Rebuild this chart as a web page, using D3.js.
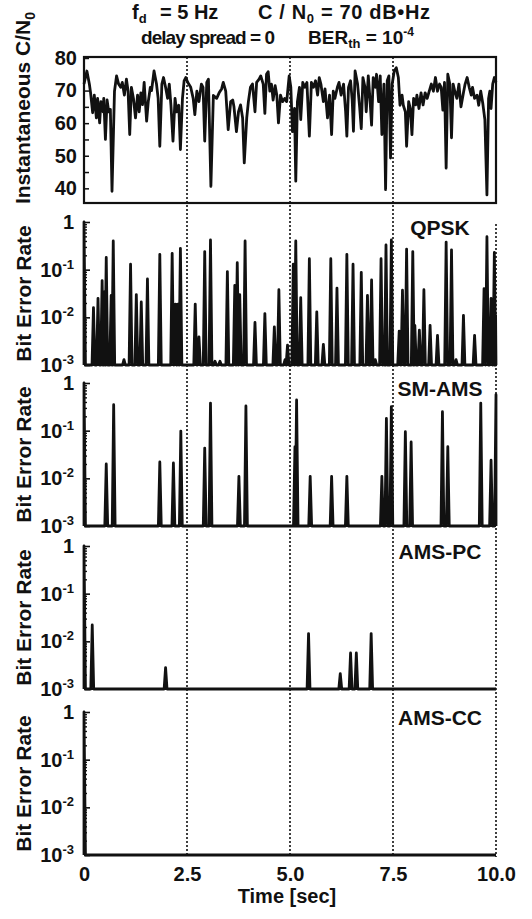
<!DOCTYPE html>
<html>
<head>
<meta charset="utf-8">
<script src="https://cdn.jsdelivr.net/npm/d3@7"></script>
<style>
  body { margin: 0; background: #fff; }
  text { font-family: "Liberation Sans", Arial, sans-serif; font-weight: bold; fill: #111; }
</style>
</head>
<body>
<svg id="root"></svg>
<script>
// Instantaneous C/N0 [dB-Hz], as [time sec, value]
const cnSeries = [
  [0.00,72],[0.07,76],[0.13,72],[0.16,69.3],[0.21,63.2],[0.25,68.6],[0.30,61.6],[0.33,67.6],[0.38,60.1],[0.41,66.6],
  [0.46,63.5],[0.48,67.6],[0.52,55],[0.56,67.1],[0.60,63.5],[0.64,64.2],[0.68,39.1],[0.74,69.8],[0.79,74.5],[0.84,72],
  [0.89,71],[0.93,72.5],[0.98,68.6],[1.03,73.5],[1.07,69.8],[1.11,56.5],[1.15,71],[1.20,67.6],[1.25,61.6],[1.30,68.6],
  [1.34,63.5],[1.38,69.3],[1.42,65.7],[1.46,72.5],[1.52,60.6],[1.56,66.6],[1.61,71],[1.64,70],[1.70,76],[1.76,72],
  [1.80,67.6],[1.84,52.9],[1.89,72],[1.93,74],[1.98,71],[2.03,67.6],[2.07,72],[2.11,65.5],[2.16,54.5],[2.21,67.6],
  [2.25,63.5],[2.30,65.5],[2.34,51.9],[2.39,67.6],[2.43,73],[2.47,74],[2.52,72.5],[2.59,71],[2.65,67.6],[2.69,62.6],
  [2.74,69.8],[2.79,66.6],[2.85,72],[2.89,71],[2.93,54.5],[2.98,72.5],[3.02,73.5],[3.08,40.6],[3.14,68.5],[3.22,67.6],
  [3.28,69.3],[3.34,70.5],[3.38,72.5],[3.44,69.8],[3.50,58],[3.56,66.6],[3.61,67.1],[3.64,65],[3.70,57.4],[3.75,63.5],
  [3.80,65.6],[3.85,61.6],[3.89,47.8],[3.95,61.6],[3.99,66.6],[4.04,71],[4.09,72],[4.15,63.5],[4.19,72.5],[4.25,73.5],
  [4.29,74.5],[4.35,72],[4.39,63],[4.43,75],[4.47,75.8],[4.51,69.8],[4.55,72],[4.59,67.1],[4.64,71.5],[4.68,68.6],
  [4.72,60.1],[4.77,68.6],[4.82,66.6],[4.87,67.6],[4.92,66.6],[4.98,74.5],[5.02,71],[5.06,57.4],[5.11,64.5],[5.14,42.2],
  [5.18,66.6],[5.23,71],[5.26,61.1],[5.31,72.5],[5.36,71],[5.41,72.5],[5.47,56],[5.52,72.5],[5.57,71],[5.62,73],
  [5.67,68.6],[5.71,74],[5.75,72],[5.81,66.6],[5.85,70.5],[5.91,61.6],[5.96,68.6],[6.01,56.5],[6.05,69.8],[6.09,67.6],
  [6.15,71],[6.19,72.5],[6.24,68.6],[6.30,72],[6.35,63.5],[6.38,56],[6.42,71],[6.47,73],[6.51,67],[6.54,57.5],
  [6.58,76],[6.64,72],[6.69,65],[6.73,58.3],[6.77,74],[6.82,71],[6.85,63.5],[6.90,74.5],[6.94,67.6],[6.98,59.4],
  [7.02,74],[7.07,71],[7.10,75],[7.15,66.6],[7.19,74.5],[7.23,56.5],[7.28,72],[7.32,39.6],[7.36,73],[7.40,74.5],
  [7.44,49.3],[7.48,72],[7.53,76],[7.58,77],[7.63,74],[7.67,65.5],[7.72,68.6],[7.75,65.5],[7.80,63.5],[7.83,52.9],
  [7.88,66.6],[7.92,64.5],[7.96,56.5],[8.00,67.6],[8.05,65.6],[8.08,68.6],[8.13,64.5],[8.18,69.3],[8.23,65.6],[8.28,69.3],
  [8.33,67.6],[8.38,69.8],[8.43,72],[8.48,69.8],[8.53,74],[8.58,69.8],[8.63,72],[8.67,71],[8.71,64],[8.75,72.5],
  [8.79,46.2],[8.83,75],[8.88,72],[8.92,55.5],[8.96,72],[9.00,69.8],[9.05,67.6],[9.10,72],[9.15,65],[9.21,69.3],
  [9.25,72],[9.30,74],[9.35,71],[9.40,68.6],[9.43,71],[9.48,67.6],[9.54,68.6],[9.58,65.5],[9.63,69.8],[9.68,66],
  [9.73,61.1],[9.78,38],[9.82,67.6],[9.85,69.8],[9.88,64.5],[9.92,72],[9.96,74],[10.0,72.5]
];

// BER peaks per scheme, [time sec, peak BER]; the floor is 1e-3
const qpskPeaks = [
  [0,1],[0.23,0.016],[0.34,0.025],[0.44,0.059],[0.49,0.034],[0.54,0.18],[0.66,0.029],[0.71,0.40],[0.97,0.0013],
  [1.13,0.13],[1.27,0.030],[1.39,0.021],[1.54,0.064],[1.84,0.21],[2.14,0.22],[2.22,0.019],[2.28,0.019],[2.34,0.28],
  [2.70,0.019],[2.79,0.0039],[2.93,0.24],[3.07,0.42],[3.18,0.0012],[3.30,0.0012],[3.48,0.091],[3.66,0.047],[3.72,0.14],
  [3.78,0.03],[3.91,0.40],[4.15,0.0078],[4.39,0.012],[4.62,0.0063],[4.73,0.038],[4.88,0.0013],[4.94,0.0026],[5.08,0.13],
  [5.14,0.40],[5.26,0.026],[5.47,0.17],[5.65,0.013],[5.81,0.0027],[5.99,0.17],[6.14,0.041],[6.38,0.21],[6.53,0.13],
  [6.73,0.088],[6.88,0.029],[6.98,0.061],[7.07,0.0013],[7.21,0.17],[7.29,0.0036],[7.33,0.33],[7.46,0.42],[7.65,0.0051],
  [7.73,0.037],[7.83,0.27],[7.98,0.24],[8.03,0.0068],[8.14,0.0054],[8.25,0.038],[8.40,0.0068],[8.58,0.0042],[8.79,0.38],
  [8.92,0.26],[9.03,0.0013],[9.21,0.011],[9.48,0.0042],[9.71,0.04],[9.78,0.49],[9.88,0.025],[9.96,0.23],[9.99,0.011]
];
const smamsPeaks = [
  [0,1],[0.54,0.020],[0.72,0.35],[1.84,0.022],[2.17,0.021],[2.35,0.098],[2.93,0.043],[3.07,0.38],[3.76,0.011],
  [3.93,0.33],[5.12,0.046],[5.16,0.44],[5.49,0.011],[6.01,0.011],[6.38,0.011],[7.23,0.011],[7.34,0.18],[7.46,0.32],
  [7.80,0.095],[7.94,0.058],[8.70,0.25],[8.83,0.046],[9.63,0.38],[9.88,0.024],[10,0.57]
];
const amspcPeaks = [[0,1],[0.2,0.022],[1.98,0.0028],[5.45,0.0145],[6.22,0.0021],[6.47,0.0057],[6.61,0.0057],[6.97,0.0145]];
const amsccPeaks = [[0,1]];

const schemeNames = ["QPSK", "SM-AMS", "AMS-PC", "AMS-CC"];
const timeTicks = [0, 2.5, 5, 7.5, 10];
const timeTickLabels = ["0", "2.5", "5.0", "7.5", "10.0"];
const cnTicks = [40, 50, 60, 70, 80];
const berTicks = [1, 0.1, 0.01, 0.001];
const berTickExp = ["", "-1", "-2", "-3"];

const berFloor = 1e-3;

const svg = d3.select("#root").attr("width", 532).attr("height", 919);

const x = d3.scaleLinear([0, 10], [84, 496]);
const yCn = d3.scaleLinear([35.5, 80.3], [203, 57]);

// panel geometry for the four BER plots
const berPanels = [
  { data: qpskPeaks, top: 222, bottom: 365 },
  { data: smamsPeaks, top: 383, bottom: 526 },
  { data: amspcPeaks, top: 546, bottom: 689 },
  { data: amsccPeaks, top: 712, bottom: 855 }
];

// title, two lines
function titlePart(xPos, yPos, size, len, parts) {
  const t = svg.append("text")
    .attr("x", xPos).attr("y", yPos)
    .style("font-size", size + "px");
  if (len) t.attr("textLength", len).attr("lengthAdjust", "spacing");
  parts.forEach(([s, kind]) => {
    const sp = t.append("tspan").text(s);
    if (kind === "sub") sp.attr("dy", 4).style("font-size", "13px");
    if (kind === "back") sp.attr("dy", -4);
    if (kind === "sup") sp.attr("dy", -8).style("font-size", "12px");
  });
}
titlePart(132, 19, 20, null, [["f"], ["d", "sub"]]);
titlePart(160, 19, 20, null, [["= 5 Hz"]]);
titlePart(258, 19, 20, 172, [["C / N"], ["0", "sub"], [" = 70 dB\u2022Hz", "back"]]);
titlePart(141, 44, 19, 134, [["delay spread = 0"]]);
titlePart(308, 44, 19, null, [["BER"], ["th", "sub"], [" = 10", "back"], ["-4", "sup"]]);

// dotted time grid
svg.append("g").selectAll("line")
  .data(timeTicks.slice(1, 4))
  .join("line")
  .attr("x1", d => x(d)).attr("x2", d => x(d))
  .attr("y1", 57).attr("y2", 857)
  .attr("stroke", "#111").attr("stroke-width", 1.6).attr("stroke-dasharray", "2,2");
svg.append("line")
  .attr("x1", x(10)).attr("x2", x(10)).attr("y1", 224).attr("y2", 857)
  .attr("stroke", "#111").attr("stroke-width", 1.6).attr("stroke-dasharray", "2,2");

// ---- panel 1: C/N0 ----
svg.append("g")
  .attr("transform", `translate(${x(0)},0)`)
  .call(d3.axisLeft(yCn).tickValues(d3.range(40, 81, 5)).tickSizeInner(-5).tickSizeOuter(0).tickPadding(7)
    .tickFormat(d => cnTicks.includes(d) ? d : ""))
  .call(g => g.select(".domain").remove())
  .call(g => g.selectAll("line").attr("stroke", "#111").attr("stroke-width", 1.5))
  .call(g => g.selectAll("text").style("font-size", "20px").attr("fill", "#111").style("font-family", null));

svg.append("path")
  .datum(cnSeries)
  .attr("fill", "none")
  .attr("stroke", "#111")
  .attr("stroke-width", 2.8)
  .attr("stroke-linejoin", "round")
  .attr("d", d3.line().x(d => x(d[0])).y(d => yCn(d[1])));

svg.append("rect")
  .attr("x", x(0)).attr("y", 57).attr("width", x(10) - x(0)).attr("height", 203 - 57)
  .attr("fill", "none").attr("stroke", "#111").attr("stroke-width", 2.2);

const cnLabel = svg.append("text")
  .attr("transform", "translate(30,108) rotate(-90)")
  .attr("text-anchor", "middle")
  .style("font-size", "21px");
cnLabel.append("tspan").text("Instantaneous C/N");
cnLabel.append("tspan").attr("dy", 5).style("font-size", "14px").text("0");

// ---- BER panels ----
function spikePoints(peaks) {
  const half = 0.035;
  const pts = [[0, berFloor]];
  peaks.forEach(([t, b]) => {
    pts.push([Math.max(0, t - half), berFloor], [t, b], [Math.min(10, t + half), berFloor]);
  });
  pts.push([10, berFloor]);
  return pts;
}

berPanels.forEach((p, i) => {
  const y = d3.scaleLog([berFloor, 1], [p.bottom, p.top]);
  const g = svg.append("g");

  // minor log ticks
  const minor = [];
  [0.001, 0.01, 0.1].forEach(dec => d3.range(2, 10).forEach(m => minor.push(dec * m)));
  g.append("g")
    .attr("transform", `translate(${x(0)},0)`)
    .call(d3.axisLeft(y).tickValues(minor).tickSizeInner(-3).tickSizeOuter(0).tickFormat(""))
    .call(a => a.select(".domain").remove())
    .call(a => a.selectAll("line").attr("stroke", "#111").attr("stroke-width", 1.4));

  g.append("g")
    .attr("transform", `translate(${x(0)},0)`)
    .call(d3.axisLeft(y).tickValues(berTicks).tickSizeInner(-6).tickSizeOuter(0).tickPadding(10).tickFormat(""))
    .call(a => a.select(".domain").remove())
    .call(a => a.selectAll("line").attr("stroke", "#111").attr("stroke-width", 1.6))
    .call(a => a.selectAll(".tick text").each(function(d, j) {
      const txt = d3.select(this).style("font-size", "20px").attr("fill", "#111").style("font-family", null);
      if (berTickExp[j] === "") {
        txt.text("1");
      } else {
        txt.append("tspan").text("10");
        txt.append("tspan").attr("dy", -8).style("font-size", "13px").text(berTickExp[j]);
      }
    }));

  // axes lines
  g.append("line").attr("x1", x(0)).attr("x2", x(0)).attr("y1", y(1)).attr("y2", y(berFloor))
    .attr("stroke", "#111").attr("stroke-width", 2);
  g.append("line").attr("x1", x(0)).attr("x2", x(10)).attr("y1", y(berFloor)).attr("y2", y(berFloor))
    .attr("stroke", "#111").attr("stroke-width", 2.2);

  g.append("path")
    .datum(spikePoints(p.data))
    .attr("fill", "none")
    .attr("stroke", "#111")
    .attr("stroke-width", 2.8)
    .attr("stroke-linejoin", "round")
    .attr("d", d3.line().x(d => x(d[0])).y(d => y(d[1])));

  g.append("text")
    .attr("x", 440).attr("y", p.top + 13)
    .attr("text-anchor", "middle")
    .style("font-size", "21px")
    .text(schemeNames[i]);

  g.append("text")
    .attr("transform", `translate(31,${(p.top + p.bottom) / 2}) rotate(-90)`)
    .attr("text-anchor", "middle")
    .style("font-size", "21px")
    .text("Bit Error Rate");
});

// time axis labels
svg.append("g")
  .attr("transform", "translate(0,855)")
  .call(d3.axisBottom(x).tickValues(timeTicks).tickSize(0).tickPadding(12)
    .tickFormat((d, i) => timeTickLabels[i]))
  .call(a => a.select(".domain").remove())
  .call(a => a.selectAll("text").style("font-size", "20px").attr("fill", "#111").style("font-family", null));

svg.append("text")
  .attr("x", 287).attr("y", 903)
  .attr("text-anchor", "middle")
  .style("font-size", "20px")
  .text("Time [sec]");
</script>
</body>
</html>
